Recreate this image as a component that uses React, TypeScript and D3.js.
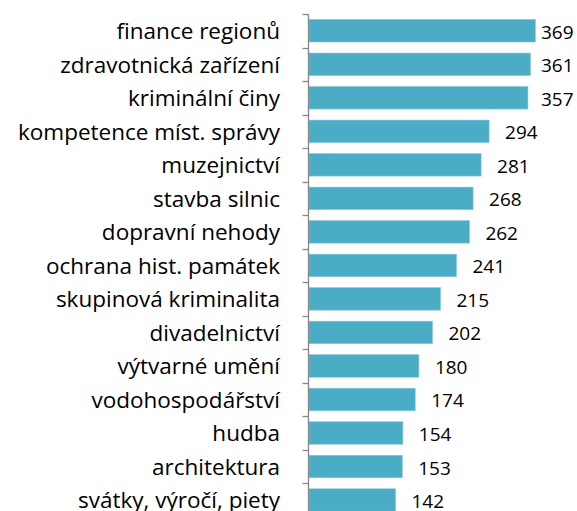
import { useEffect, useRef } from "react";
import * as d3 from "d3";

const kategorie = [
  "finance regionů",
  "zdravotnická zařízení",
  "kriminální činy",
  "kompetence míst. správy",
  "muzejnictví",
  "stavba silnic",
  "dopravní nehody",
  "ochrana hist. památek",
  "skupinová kriminalita",
  "divadelnictví",
  "výtvarné umění",
  "vodohospodářství",
  "hudba",
  "architektura",
  "svátky, výročí, piety",
];

const hodnoty = [369, 361, 357, 294, 281, 268, 262, 241, 215, 202, 180, 174, 154, 153, 142];

const ANCHO = 577;
const ALTO = 511;

export default function App() {
  const svgRef = useRef<SVGSVGElement>(null);

  useEffect(() => {
    if (!svgRef.current) return;
    const svg = d3.select(svgRef.current);
    svg.selectAll("*").remove();

    const osaX = 308;
    const horni = 14;
    const krok = 33.52;
    const pravyOkraj = 36;
    const pismo = "'Open Sans', 'Noto Sans', sans-serif";

    const datos = kategorie.map((k, i) => ({ k, v: hodnoty[i] }));

    const x = d3.scaleLinear().domain([0, 400]).range([osaX, osaX + 246.4]);
    const y = d3
      .scaleBand()
      .domain(kategorie)
      .range([horni, horni + krok * kategorie.length])
      .paddingInner(0.33)
      .paddingOuter(0.165);

    // pruhy
    svg
      .append("g")
      .selectAll("rect")
      .data(datos)
      .enter()
      .append("rect")
      .attr("x", x(0) + 1)
      .attr("y", (d) => y(d.k) || 0)
      .attr("width", (d) => x(d.v) - x(0) - 1)
      .attr("height", y.bandwidth())
      .attr("fill", "#4BACC6")
      .attr("stroke", "#7fc6d8")
      .attr("stroke-width", 0.6);

    // osa
    const osa = svg.append("g").attr("transform", `translate(${osaX + 0.5},0)`);
    osa
      .append("line")
      .attr("y1", horni)
      .attr("y2", horni + krok * kategorie.length)
      .attr("stroke", "#868686")
      .attr("stroke-width", 1.3);
    osa
      .selectAll("line.tick")
      .data(d3.range(kategorie.length + 1))
      .enter()
      .append("line")
      .attr("class", "tick")
      .attr("x1", -6)
      .attr("x2", 0)
      .attr("y1", (i) => Math.round(horni + i * krok) + 0.5)
      .attr("y2", (i) => Math.round(horni + i * krok) + 0.5)
      .attr("stroke", "#868686")
      .attr("stroke-width", 1.3);

    // popisky kategorií
    svg
      .append("g")
      .selectAll("text")
      .data(datos)
      .enter()
      .append("text")
      .attr("x", 280)
      .attr("y", (d) => (y(d.k) || 0) + y.bandwidth() / 2)
      .attr("dy", "0.37em")
      .attr("text-anchor", "end")
      .attr("fill", "#000")
      .attr("font-family", pismo)
      .attr("font-size", 22.5)
      .text((d) => d.k);

    // hodnoty
    svg
      .append("g")
      .selectAll("text")
      .data(datos)
      .enter()
      .append("text")
      .attr("x", (d) => Math.min(x(d.v) + 16, ANCHO - pravyOkraj))
      .attr("y", (d) => (y(d.k) || 0) + y.bandwidth() / 2)
      .attr("dy", "0.42em")
      .attr("fill", "#000")
      .attr("font-family", pismo)
      .attr("font-size", 19)
      .text((d) => d.v);
  }, []);

  return (
    <svg
      ref={svgRef}
      width={ANCHO}
      height={ALTO}
      viewBox={`0 0 ${ANCHO} ${ALTO}`}
      style={{ position: "absolute", left: 0, top: 0, background: "#fff" }}
    />
  );
}
